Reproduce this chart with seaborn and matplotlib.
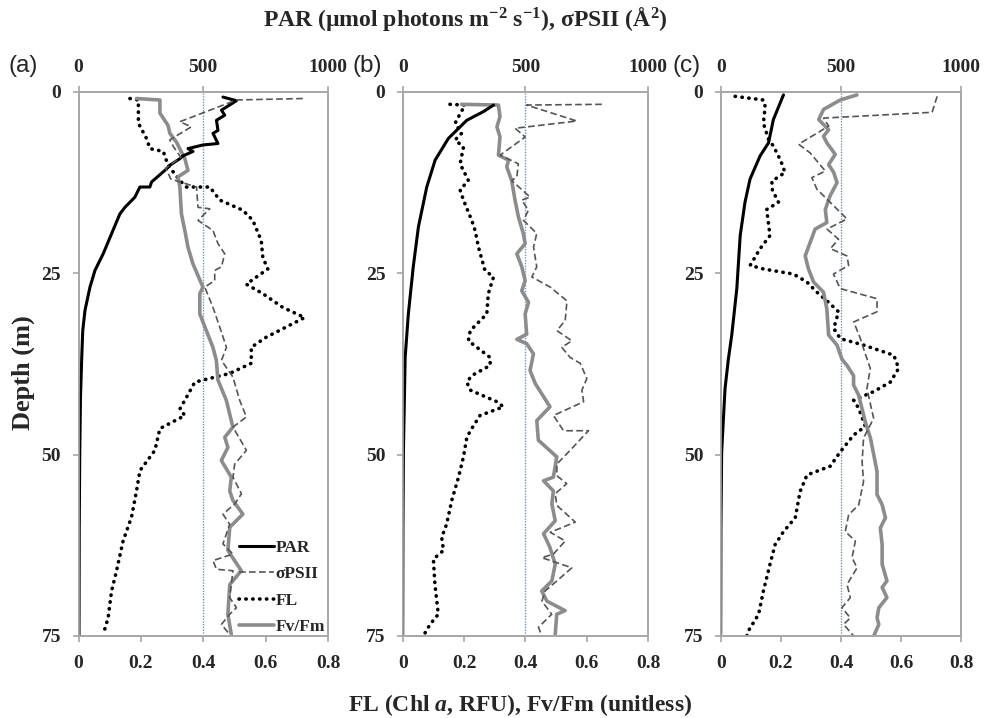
import seaborn as sns
import matplotlib.pyplot as plt

# ---- panel (a) ----
a_par_d = [0.7, 1.2, 2.5, 3.2, 3.9, 5.3, 5.7, 7.1, 7.3, 7.8, 8.2, 8.8, 9.2, 10.1, 10.6, 12.4, 13.1, 13.1,
           14.5, 15.9, 16.8, 19.5, 22.3, 24.6, 26.9, 30.1, 32.9, 36.6, 42, 50, 60, 75]
a_par = [579, 633, 573, 586, 553, 559, 539, 559, 499, 439, 459, 419, 406, 366, 353, 293, 286, 246,
         226, 186, 166, 133, 99, 66, 46, 26, 17, 13, 8, 5, 3, 2]
a_sig_d = [0.9, 1.1, 4.1, 4.8, 6.6, 7.5, 9.0, 10.5, 12.0, 13.1, 15.9, 16.1, 17.7, 19.1, 20.9, 22.3, 24.1,
           24.6, 26.0, 26.9, 29.7, 32.4, 35.2, 37.0, 39.3, 42.5, 44.8, 46.2, 49.4, 51.3, 53.1, 55.4, 56.8,
           58.2, 59.6, 62.3, 63.7, 64.6, 65.8, 66.0, 69.7, 71.1, 72.0, 73.4, 74.8]
a_sig = [899, 633, 406, 452, 366, 380, 410, 350, 370, 473, 479, 526, 479, 539, 559, 586, 573,
         546, 546, 506, 539, 566, 593, 573, 619, 646, 673, 619, 673, 626, 619, 653, 626,
         579, 606, 579, 619, 539, 553, 619, 606, 633, 606, 573, 606]
a_fl_d = [0.9, 1.1, 4.3, 6.4, 7.8, 8.2, 10.1, 12.2, 13.1, 13.1, 14.9, 16.3, 17.7, 20.5, 22.8, 24.4, 26.5,
          27.8, 29.7, 31.1, 32.4, 33.8, 35.2, 37.4, 38.8, 40.0, 42.5, 43.7, 44.6, 46.4, 49.4, 52.2, 55.0,
          58.6, 61.9, 66.0, 68.8, 72.5, 74.8]
a_fl = [0.165, 0.192, 0.192, 0.218, 0.229, 0.272, 0.287, 0.325, 0.346, 0.421, 0.453, 0.527, 0.559, 0.586,
        0.591, 0.607, 0.538, 0.591, 0.655, 0.725, 0.666, 0.602, 0.554, 0.554, 0.485, 0.373, 0.341, 0.325,
        0.341, 0.261, 0.245, 0.197, 0.186, 0.170, 0.143, 0.122, 0.106, 0.095, 0.079]
a_fv_d = [0.9, 1.1, 2.9, 4.6, 5.7, 6.9, 9.2, 10.8, 11.7, 13.1, 16.8, 19.1, 21.4, 23.7, 26.9, 27.8, 30.6,
          32.9, 35.2, 37.0, 39.7, 42.5, 46.2, 47.6, 49.0, 50.8, 53.1, 55.0, 56.3, 58.2, 60.0, 63.2, 66.0,
          67.9, 72.0, 74.8]
a_fv = [0.186, 0.261, 0.261, 0.287, 0.293, 0.314, 0.341, 0.351, 0.319, 0.325, 0.330, 0.341, 0.351, 0.367,
        0.399, 0.389, 0.389, 0.410, 0.431, 0.442, 0.447, 0.474, 0.495, 0.469, 0.479, 0.458, 0.490, 0.485,
        0.495, 0.527, 0.485, 0.479, 0.522, 0.485, 0.479, 0.490]

# ---- panel (b) ----
b_par_d = [1.8, 2.7, 3.9, 6.4, 9.4, 13.1, 18.6, 24.1, 30.6, 36.6, 49.4, 60, 74.8]
b_par = [370, 329, 261, 186, 132, 98, 64, 43, 23, 10, 3, 1, 0]
b_sig_d = [1.7, 1.8, 4.0, 5.0, 6.2, 8.7, 9.9, 11.7, 12.2, 14.5, 14.9, 16.3, 17.7, 19.5, 21.4, 24.1, 25.5,
           26.9, 28.8, 31.5, 32.9, 34.3, 35.2, 36.6, 37.4, 39.5, 41.1, 42.7, 44.6, 46.7, 46.7, 49.4, 51.3,
           52.9, 54.0, 55.4, 57.0, 59.3, 60.7, 61.9, 63.7, 64.2, 65.6, 67.4, 68.8, 70.2, 72.0, 73.8, 75.0]
b_sig = [811, 505, 709, 458, 499, 397, 471, 465, 444, 519, 485, 512, 492, 546, 533, 546, 526,
         601, 669, 662, 628, 689, 648, 682, 723, 750, 730, 737, 614, 655, 757, 682, 628,
         628, 668, 621, 628, 703, 601, 662, 614, 567, 689, 628, 580, 567, 607, 553, 567]
b_fl_d = [1.7, 1.8, 3.4, 4.3, 5.7, 6.6, 7.6, 9.9, 12.2, 13.5, 14.9, 17.7, 19.1, 21.4, 24.6, 25.5, 27.8,
          30.6, 32.9, 34.3, 36.6, 37.7, 39.1, 40.0, 41.1, 42.7, 43.4, 44.6, 46.4, 47.6, 50.3, 53.1, 56.3,
          59.6, 61.4, 63.2, 64.4, 67.9, 72.0, 73.4, 75.0]
b_fl = [0.154, 0.203, 0.182, 0.171, 0.192, 0.171, 0.198, 0.187, 0.214, 0.187, 0.198, 0.225, 0.236, 0.247,
        0.268, 0.296, 0.279, 0.274, 0.220, 0.214, 0.285, 0.285, 0.225, 0.209, 0.220, 0.307, 0.328, 0.252,
        0.225, 0.209, 0.198, 0.182, 0.160, 0.143, 0.127, 0.133, 0.100, 0.105, 0.116, 0.089, 0.067]
b_fv_d = [1.7, 1.8, 3.4, 4.8, 6.2, 8.7, 9.4, 10.3, 12.2, 14.9, 17.2, 19.5, 20.9, 22.3, 24.1, 26.0, 27.4,
          29.0, 30.6, 33.4, 34.1, 34.7, 36.1, 38.4, 40.2, 43.4, 45.3, 48.0, 50.3, 53.1, 53.6, 55.0, 56.8,
          59.1, 60.9, 62.8, 65.1, 67.4, 68.8, 70.2, 71.5, 72.0, 74.8]
b_fv = [0.192, 0.312, 0.317, 0.307, 0.317, 0.312, 0.345, 0.339, 0.355, 0.366, 0.377, 0.393, 0.399, 0.372,
        0.388, 0.399, 0.388, 0.410, 0.399, 0.404, 0.372, 0.404, 0.426, 0.415, 0.432, 0.480, 0.437, 0.442,
        0.502, 0.491, 0.459, 0.491, 0.486, 0.497, 0.459, 0.480, 0.497, 0.486, 0.453, 0.470, 0.529, 0.502,
        0.497]

# ---- panel (c) ----
c_par_d = [0.4, 3.8, 7.0, 8.8, 12.0, 15.2, 19.8, 27.1, 33.5, 36.8, 40.9, 49.6, 60, 74.7]
c_par = [261, 219, 199, 164, 122, 101, 81, 67, 46, 32, 18, 4, 1, 0]
c_sig_d = [0.6, 2.8, 3.6, 4.7, 7.2, 8.4, 10.9, 11.8, 13.4, 17.5, 18.9, 20.3, 21.6, 22.6, 23.9, 25.1, 27.1,
           28.5, 30.3, 31.7, 34.0, 35.4, 38.1, 40.9, 45.0, 47.7, 51.0, 53.7, 56.9, 58.3, 60.6, 61.9, 64.2,
           65.6, 67.9, 69.7, 71.1, 72.5, 73.4, 75.0]
c_sig = [900, 879, 428, 449, 324, 372, 435, 379, 400, 525, 442, 490, 456, 525, 532, 469, 497,
         650, 650, 553, 581, 594, 622, 608, 636, 594, 588, 594, 574, 532, 518, 560, 546,
         567, 525, 539, 504, 539, 511, 553]
c_fl_d = [0.6, 1.1, 2.0, 4.3, 6.5, 7.5, 9.5, 11.1, 12.3, 13.5, 15.2, 16.2, 19.8, 21.6, 23.9, 24.4, 25.1,
          26.2, 27.6, 29.0, 30.3, 32.6, 34.0, 34.9, 36.3, 38.1, 40.0, 41.3, 42.5, 43.6, 46.1, 47.3, 49.6,
          51.6, 52.8, 55.1, 58.7, 60.6, 62.4, 65.1, 68.8, 72.0, 74.3, 75.0]
c_fl = [0.048, 0.142, 0.148, 0.142, 0.159, 0.176, 0.200, 0.214, 0.170, 0.172, 0.192, 0.153, 0.164, 0.131,
        0.098, 0.142, 0.242, 0.287, 0.320, 0.359, 0.392, 0.376, 0.398, 0.476, 0.576, 0.592, 0.564, 0.509,
        0.442, 0.459, 0.481, 0.442, 0.398, 0.364, 0.287, 0.264, 0.248, 0.209, 0.181, 0.164, 0.142, 0.126,
        0.092, 0.087]
c_fv_d = [0.4, 1.1, 2.4, 3.8, 5.2, 6.1, 7.0, 8.6, 10.0, 11.1, 12.5, 14.3, 16.2, 18.0, 18.9, 22.6, 24.4,
          26.2, 27.6, 29.9, 33.5, 34.9, 36.8, 37.7, 39.1, 40.4, 41.8, 45.5, 47.7, 52.3, 55.5, 56.9, 58.7,
          60.1, 62.4, 65.1, 67.4, 68.3, 69.7, 71.1, 72.5, 73.4, 75.0]
c_fv = [0.453, 0.398, 0.342, 0.326, 0.359, 0.342, 0.353, 0.381, 0.359, 0.376, 0.387, 0.364, 0.348, 0.353,
        0.314, 0.281, 0.292, 0.309, 0.342, 0.353, 0.359, 0.387, 0.403, 0.420, 0.442, 0.442, 0.459, 0.481,
        0.498, 0.520, 0.520, 0.537, 0.548, 0.531, 0.537, 0.537, 0.553, 0.537, 0.553, 0.526, 0.520, 0.526,
        0.509]

bottom_ticks = [0, 0.2, 0.4, 0.6, 0.8]
bottom_labels = ["0", "0.2", "0.4", "0.6", "0.8"]
top_ticks = [0, 500, 1000]
depth_ticks = [0, 25, 50, 75]
panel_names = ["(a)", "(b)", "(c)"]

sns.set_style("ticks")
plt.rcParams["font.family"] = ["Liberation Serif", "DejaVu Serif"]
plt.rcParams["font.weight"] = "bold"
plt.rcParams["mathtext.fontset"] = "custom"
plt.rcParams["mathtext.rm"] = "Liberation Serif:bold"
plt.rcParams["mathtext.it"] = "Liberation Serif:italic:bold"
plt.rcParams["mathtext.bf"] = "Liberation Serif:bold"

GRAY = "#a6a6a6"
fig = plt.figure(figsize=(9.85, 7.18), dpi=100)

panels = [
    (a_par_d, a_par, a_sig_d, a_sig, a_fl_d, a_fl, a_fv_d, a_fv),
    (b_par_d, b_par, b_sig_d, b_sig, b_fl_d, b_fl, b_fv_d, b_fv),
    (c_par_d, c_par, c_sig_d, c_sig, c_fl_d, c_fl, c_fv_d, c_fv),
]
lefts = [78.5 / 985, 402.7 / 985, 720.7 / 985]
widths = [249.5 / 985, 245.5 / 985, 240.5 / 985]
letter_x = [9 / 985, 353 / 985, 673 / 985]

for i, (par_d, par, sig_d, sig, fl_d, fl, fv_d, fv) in enumerate(panels):
    ax = fig.add_axes([lefts[i], 1 - 636 / 718, widths[i], 544 / 718])
    tw = ax.twiny()

    ax.axvline(0.4, color="#5b9bd5", lw=1, ls=(0, (1, 1)), zorder=0)
    sns.lineplot(x=fl, y=fl_d, ax=ax, sort=False, estimator=None, legend=False, color="black",
                 lw=2.6, linestyle=(0, (0.1, 1.8)), dash_capstyle="round", label="FL")
    sns.lineplot(x=fv, y=fv_d, ax=ax, sort=False, estimator=None, legend=False, color="#8c8c8c",
                 lw=2.6, label="Fv/Fm")
    sns.lineplot(x=par, y=par_d, ax=tw, sort=False, estimator=None, legend=False, color="black",
                 lw=2.2, label="PAR")
    sns.lineplot(x=sig, y=sig_d, ax=tw, sort=False, estimator=None, legend=False, color="#555555",
                 lw=1.2, linestyle=(0, (4, 2)), label="σPSII")

    ax.set_xlim(0, 0.8)
    tw.set_xlim(0, 1000)
    ax.set_ylim(75, 0)
    ax.set_xticks(bottom_ticks, bottom_labels)
    tw.set_xticks(top_ticks, [str(t) for t in top_ticks])
    ax.set_yticks(depth_ticks, [str(t) for t in depth_ticks])
    for a in (ax, tw):
        a.set_xlabel("")
        a.set_ylabel("")
        for s in a.spines.values():
            s.set_color(GRAY)
            s.set_linewidth(1.2)
            s.set_visible(True)
    ax.tick_params(axis="both", direction="out", length=4.5, width=1.2, color=GRAY, labelsize=14)
    ax.tick_params(axis="x", pad=9)
    ax.tick_params(axis="y", pad=8)
    tw.tick_params(axis="x", direction="out", length=4.5, width=1.2, color=GRAY, labelsize=14, pad=7)

    fig.text(letter_x[i], 1 - 66 / 718, panel_names[i], fontsize=17.5, family="Liberation Sans",
             weight="normal", va="center", ha="left")

    if i == 0:
        h1, l1 = tw.get_legend_handles_labels()
        h2, l2 = ax.get_legend_handles_labels()
        tw.legend(h1 + h2, l1 + l2, loc="lower right", bbox_to_anchor=(1.03, -0.018), frameon=False,
                  fontsize=12.5, handlelength=2.0, handletextpad=0.1, labelspacing=0.6,
                  borderaxespad=0.2)

fig.text(465 / 985, 1 - 19 / 718, "PAR (µmol photons m$^{-2}$ s$^{-1}$), σPSII (Å$^{2}$)",
         ha="center", va="center", fontsize=17)
fig.text(520 / 985, 1 - 705 / 718, "FL (Chl $\\mathit{a}$, RFU), Fv/Fm (unitless)",
         ha="center", va="center", fontsize=17)
fig.text(23 / 985, 1 - 373 / 718, "Depth (m)", rotation=90, ha="center", va="center", fontsize=19)

fig.savefig("out.png", dpi=100)
